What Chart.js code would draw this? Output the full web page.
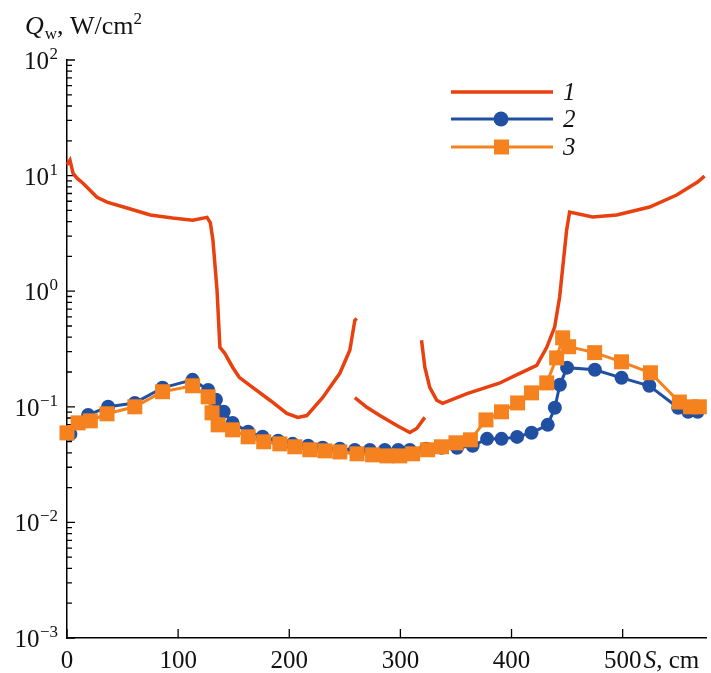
<!DOCTYPE html>
<html>
<head>
<meta charset="utf-8">
<script src="https://cdn.jsdelivr.net/npm/chart.js@4"></script>
<style>
  html, body { margin: 0; padding: 0; background: #fff; }
</style>
</head>
<body>
<canvas id="chart" width="711" height="673"></canvas>
<script>
// curve 1: three pieces, null breaks the line
var s1 = [0, 2.7, 5.4, 9, 14.4, 27, 36, 54, 75, 95, 113, 126, 129, 131.3, 135, 137.6, 142, 149, 155, 164.6, 182.6, 197.8, 207.7, 215.8, 230, 245.5, 254.5, 259, 260.8,
          261,
          259, 269.8, 281.5, 296.8, 308.5, 314.7, 322,
          321,
          319, 322, 326.4, 332.7, 338, 360, 389, 405, 422.7, 431.7, 438.8, 443.3, 449.6, 452.3, 473, 494.6, 524.3, 548.6, 567.4, 573.7];
var q1 = [12.4, 13.6, 10.5, 9.5, 8.6, 6.5, 5.9, 5.24, 4.56, 4.3, 4.12, 4.35, 3.9, 2.77, 1.02, 0.327, 0.29, 0.22, 0.18, 0.153, 0.114, 0.0877, 0.081, 0.084, 0.12, 0.195, 0.308, 0.56, 0.58,
          null,
          0.12, 0.099, 0.084, 0.069, 0.06, 0.065, 0.081,
          null,
          0.376, 0.22, 0.147, 0.114, 0.107, 0.13, 0.16, 0.19, 0.228, 0.327, 0.49, 0.89, 3.38, 4.84, 4.38, 4.56, 5.35, 6.79, 8.8, 9.9];

// curve 2 (circles)
var s2 = [3, 19, 37, 61, 86, 113, 127, 134, 141, 149, 163, 176, 190, 203, 217, 230, 245.5, 259, 272.5, 286, 298, 308.5, 323, 337, 351, 365, 378, 391, 405, 418, 432.6, 439, 443.5, 450, 475, 499, 524, 550, 559, 567.5];
var q2 = [0.058, 0.085, 0.1, 0.108, 0.146, 0.171, 0.14, 0.115, 0.0905, 0.0726, 0.0608, 0.055, 0.0508, 0.0478, 0.046, 0.0442, 0.0433, 0.0424, 0.0424, 0.0424, 0.0424, 0.0424, 0.0433, 0.0442, 0.0442, 0.046, 0.0528, 0.0528, 0.0549, 0.0596, 0.0698, 0.098, 0.155, 0.218, 0.209, 0.178, 0.152, 0.098, 0.0905, 0.0905];

// curve 3 (squares)
var s3 = [0, 10, 21, 36, 61, 86, 113, 127, 130.5, 136, 149, 163, 177, 191.5, 205, 218.5, 232, 245.5, 261, 275, 288, 299.5, 311, 324.5, 337, 350, 363, 377, 391, 405.5, 418, 431.7, 440.6, 446, 451.4, 474.8, 499, 525, 551, 561, 569];
var q3 = [0.0595, 0.0726, 0.0756, 0.087, 0.1, 0.135, 0.152, 0.122, 0.0887, 0.0698, 0.0632, 0.055, 0.0498, 0.0478, 0.0451, 0.0425, 0.0416, 0.0407, 0.0392, 0.0384, 0.0376, 0.0376, 0.0392, 0.0425, 0.0451, 0.0488, 0.0518, 0.077, 0.0905, 0.108, 0.132, 0.161, 0.265, 0.395, 0.331, 0.294, 0.245, 0.197, 0.11, 0.1, 0.1];

var seriesNames = ['1', '2', '3'];
var xTicks = [0, 100, 200, 300, 400, 500];
var yExps = [-3, -2, -1, 0, 1, 2];

var red = '#e8410f', blue = '#2150a2', orange = '#f5821f';
var serif = "'Liberation Serif', 'Times New Roman', serif";

function pts(s, q) {
  return s.map(function (x, i) { return {x: x, y: q[i]}; });
}

function supStr(e) {
  return (e < 0 ? '\u2212' : '') + Math.abs(e);
}

var decor = {
  id: 'decor',
  beforeDatasetsDraw: function (chart) {
    var ctx = chart.ctx, xs = chart.scales.x, ys = chart.scales.y, a = chart.chartArea;
    ctx.save();
    ctx.strokeStyle = '#000';
    ctx.lineWidth = 1.3;
    ctx.beginPath();
    xTicks.forEach(function (v) {
      var px = xs.getPixelForValue(v);
      ctx.moveTo(px, a.bottom);
      ctx.lineTo(px, a.bottom - 9);
    });
    yExps.forEach(function (e) {
      for (var m = 1; m < 10; m++) {
        if (e === 2 && m > 1) break;
        var py = ys.getPixelForValue(m * Math.pow(10, e));
        ctx.moveTo(a.left, py);
        ctx.lineTo(a.left + (m === 1 ? 8 : 5), py);
      }
    });
    ctx.stroke();
    ctx.restore();
  },
  afterDraw: function (chart) {
    var ctx = chart.ctx, xs = chart.scales.x, ys = chart.scales.y;
    ctx.save();
    ctx.fillStyle = '#111';
    ctx.textBaseline = 'alphabetic';

    // y tick labels 10^n
    yExps.forEach(function (e) {
      var py = ys.getPixelForValue(Math.pow(10, e));
      ctx.font = '17px ' + serif;
      ctx.textAlign = 'right';
      var sup = supStr(e);
      var w = ctx.measureText(sup).width;
      ctx.fillText(sup, 58, py - 1);
      ctx.font = '25px ' + serif;
      ctx.fillText('10', 58 - w - 0.5, py + 9);
    });

    // x tick labels
    ctx.font = '25px ' + serif;
    ctx.textAlign = 'center';
    xTicks.forEach(function (v) {
      ctx.fillText(String(v), xs.getPixelForValue(v), 668);
    });
    ctx.textAlign = 'left';
    var ux = xs.getPixelForValue(500) + 21;
    ctx.font = 'italic 25px ' + serif;
    ctx.fillText('S', ux, 668);
    ux += ctx.measureText('S').width;
    ctx.font = '25px ' + serif;
    ctx.fillText(', cm', ux, 668);

    // y axis title
    var tx = 25;
    ctx.font = 'italic 26px ' + serif;
    ctx.fillText('Q', tx, 34);
    tx += ctx.measureText('Q').width + 1;
    ctx.font = '17px ' + serif;
    ctx.fillText('w', tx, 39);
    tx += ctx.measureText('w').width;
    ctx.font = '26px ' + serif;
    ctx.fillText(', W/cm', tx, 34);
    tx += ctx.measureText(', W/cm').width;
    ctx.font = '17px ' + serif;
    ctx.fillText('2', tx, 24);

    // legend
    var ly = [92, 119, 147];
    chart.data.datasets.forEach(function (ds, i) {
      var y = ly[i];
      ctx.strokeStyle = ds.borderColor;
      ctx.lineWidth = ds.borderWidth;
      ctx.beginPath();
      ctx.moveTo(451, y);
      ctx.lineTo(553, y);
      ctx.stroke();
      ctx.fillStyle = ds.borderColor;
      if (ds.pointStyle === 'circle') {
        ctx.beginPath();
        ctx.arc(501, y, 7.5, 0, Math.PI * 2);
        ctx.fill();
      } else if (ds.pointStyle === 'rect') {
        ctx.fillRect(494, y - 7.5, 15, 15);
      }
      ctx.fillStyle = '#111';
      ctx.font = 'italic 25px ' + serif;
      ctx.fillText(seriesNames[i], 563, y + 8);
    });
    ctx.restore();
  }
};

new Chart(document.getElementById('chart'), {
  type: 'line',
  data: {
    datasets: [
      {label: seriesNames[0], data: pts(s1, q1), borderColor: red, backgroundColor: red, borderWidth: 3.5,
       pointRadius: 0, pointStyle: false, spanGaps: false, order: 3, clip: false, tension: 0},
      {label: seriesNames[1], data: pts(s2, q2), borderColor: blue, backgroundColor: blue, borderWidth: 3,
       pointRadius: 7, pointStyle: 'circle', pointBorderWidth: 0, order: 2, clip: false, tension: 0},
      {label: seriesNames[2], data: pts(s3, q3), borderColor: orange, backgroundColor: orange, borderWidth: 3,
       pointRadius: 10.6, pointStyle: 'rect', pointBorderWidth: 0, order: 1, clip: false, tension: 0}
    ]
  },
  options: {
    responsive: false,
    animation: false,
    devicePixelRatio: 1,
    layout: {autoPadding: false, padding: {left: 67, top: 60, right: 5, bottom: 35}},
    plugins: {legend: {display: false}, tooltip: {enabled: false}},
    scales: {
      x: {
        type: 'linear', min: 0, max: 575,
        grid: {display: false, drawTicks: false},
        ticks: {display: false},
        border: {display: true, color: '#000', width: 1.5}
      },
      y: {
        type: 'logarithmic', min: 0.001, max: 100,
        grid: {display: false, drawTicks: false},
        ticks: {display: false},
        border: {display: true, color: '#000', width: 1.5}
      }
    }
  },
  plugins: [decor]
});
</script>
</body>
</html>
